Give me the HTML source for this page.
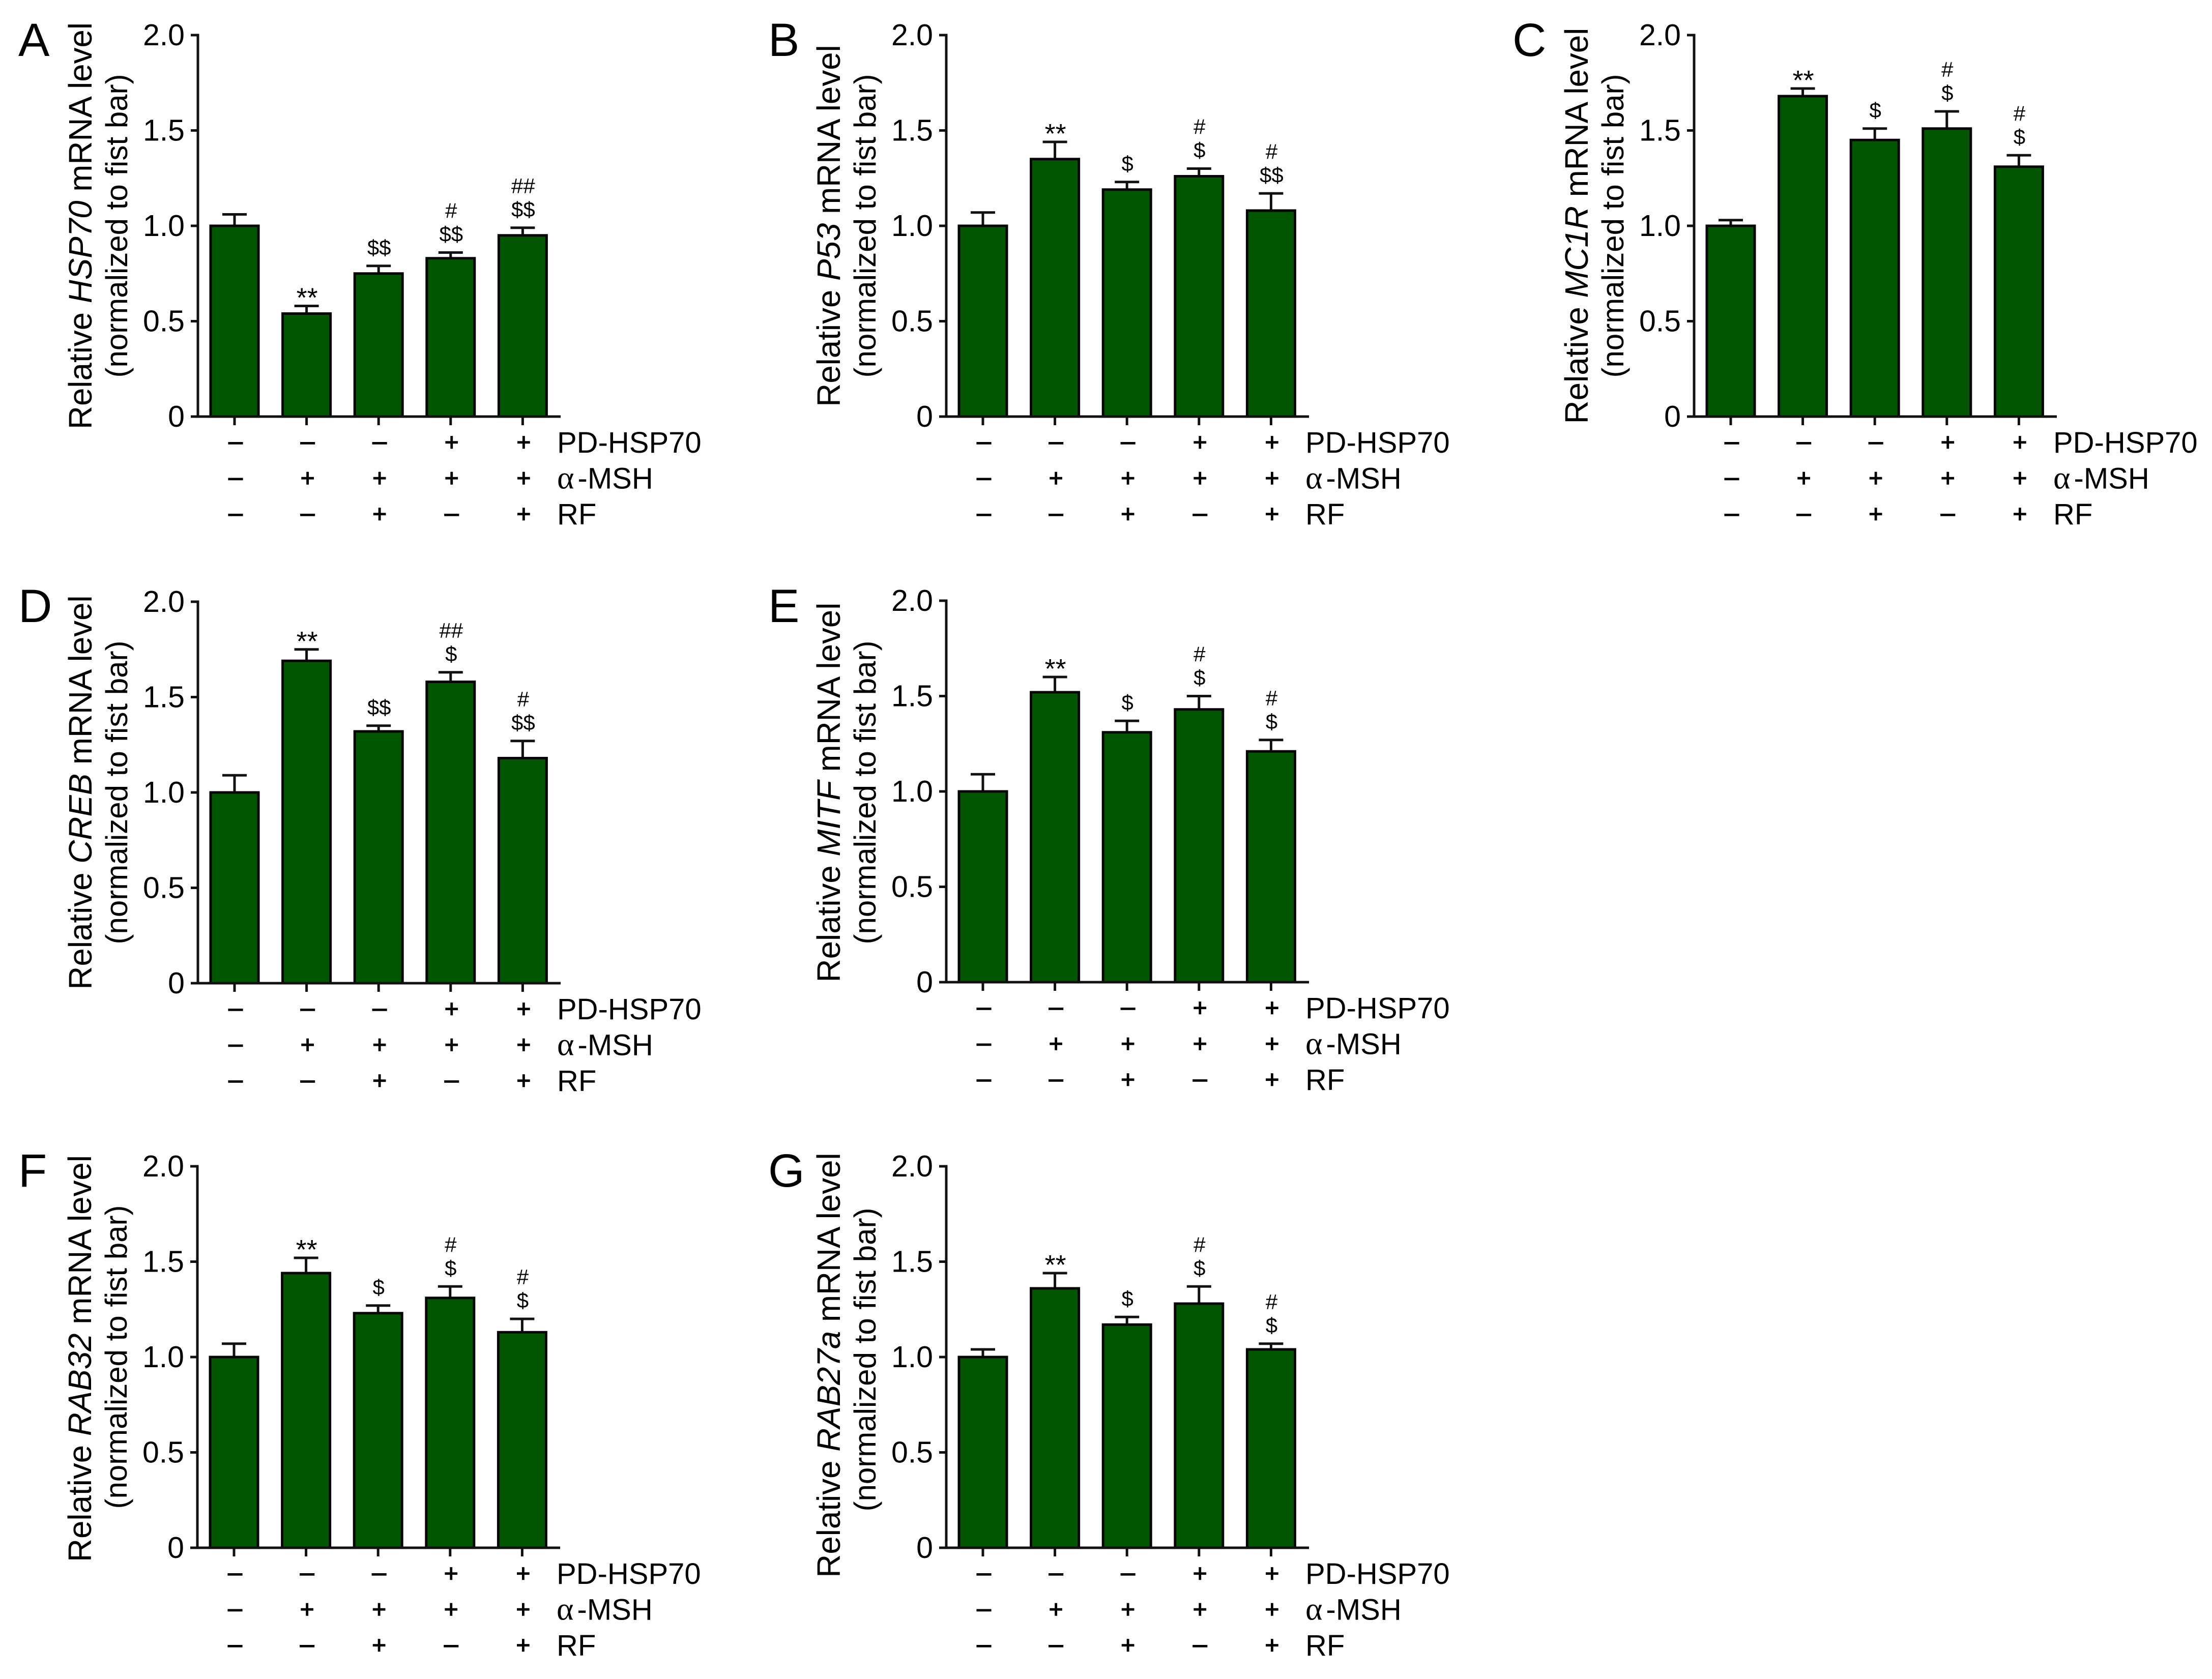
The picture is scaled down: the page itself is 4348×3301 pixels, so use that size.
<!DOCTYPE html>
<html lang="en">
<head>
<meta charset="utf-8">
<title>Relative mRNA levels</title>
<style>
html,body{margin:0;padding:0;background:#fff;width:4348px;height:3301px;overflow:hidden}
svg{display:block}
text{font-family:"Liberation Sans",Arial,sans-serif;fill:#000}
</style>
</head>
<body>
<svg id="figure" xmlns="http://www.w3.org/2000/svg" width="4348" height="3301" viewBox="0 0 4348 3301"></svg>
<script>
const yTickValues = [0, 0.5, 1.0, 1.5, 2.0];
const yTickLabels = ['0', '0.5', '1.0', '1.5', '2.0'];
const rowNames = ['PD-HSP70', '-MSH', 'RF'];
const pdSigns = ['–', '–', '–', '+', '+'];
const msSigns = ['–', '+', '+', '+', '+'];
const rfSigns = ['–', '–', '+', '–', '+'];

const valuesA = [1.0, 0.54, 0.75, 0.83, 0.95];
const errorsA = [0.06, 0.04, 0.04, 0.03, 0.04];
const marksA = [[], ['**'], ['$$'], ['$$', '#'], ['$$', '##']];

const valuesB = [1.0, 1.35, 1.19, 1.26, 1.08];
const errorsB = [0.07, 0.09, 0.04, 0.04, 0.09];
const marksB = [[], ['**'], ['$'], ['$', '#'], ['$$', '#']];

const valuesC = [1.0, 1.68, 1.45, 1.51, 1.31];
const errorsC = [0.03, 0.04, 0.06, 0.09, 0.06];
const marksC = [[], ['**'], ['$'], ['$', '#'], ['$', '#']];

const valuesD = [1.0, 1.69, 1.32, 1.58, 1.18];
const errorsD = [0.09, 0.06, 0.03, 0.05, 0.09];
const marksD = [[], ['**'], ['$$'], ['$', '##'], ['$$', '#']];

const valuesE = [1.0, 1.52, 1.31, 1.43, 1.21];
const errorsE = [0.09, 0.08, 0.06, 0.07, 0.06];
const marksE = [[], ['**'], ['$'], ['$', '#'], ['$', '#']];

const valuesF = [1.0, 1.44, 1.23, 1.31, 1.13];
const errorsF = [0.07, 0.08, 0.04, 0.06, 0.07];
const marksF = [[], ['**'], ['$'], ['$', '#'], ['$', '#']];

const valuesG = [1.0, 1.36, 1.17, 1.28, 1.04];
const errorsG = [0.04, 0.08, 0.04, 0.09, 0.03];
const marksG = [[], ['**'], ['$'], ['$', '#'], ['$', '#']];

const NS = 'http://www.w3.org/2000/svg';
const svg = document.getElementById('figure');

function make(tag, attrs, parent) {
  const n = document.createElementNS(NS, tag);
  for (const k in attrs) n.setAttribute(k, attrs[k]);
  parent.appendChild(n);
  return n;
}

function drawPanel(letter, gene, values, errors, marks, axisX, topY, zeroY, letterX, letterY, titleShift, subShift) {
  const yScale = v => zeroY - v * (zeroY - topY) / 2;
  const xScale = i => axisX + 72 + i * 141.6;

  const g = make('g', {}, svg);
  
  

  const lab = make('text', {x: letterX, y: letterY, 'font-size': 92}, g);
  
  
  lab.textContent = letter;

  values.forEach((v, i) => {
    const cx = xScale(i);
    const errTop = yScale(v + errors[i]);

    const stem = make('line', {x1: cx, x2: cx, y1: errTop, y2: yScale(v), stroke: '#111', 'stroke-width': 5}, g);
    
    

    const cap = make('line', {x1: cx - 24, x2: cx + 24, y1: errTop, y2: errTop, stroke: '#111', 'stroke-width': 5}, g);
    
    

    const bar = make('rect', {x: cx - 47, y: yScale(v), width: 94, height: zeroY - yScale(v), fill: '#025602', stroke: '#060606', 'stroke-width': 5}, g);
    
    

    marks[i].forEach((m, j) => {
      const star = m === '**';
      const t = make('text', {x: cx + 1, y: star ? errTop + 2 : errTop - 22 - j * 46, 'font-size': star ? 54 : 42, 'text-anchor': 'middle'}, g);
      
      
      t.textContent = m;
    });

    const tick = make('line', {x1: cx, x2: cx, y1: zeroY, y2: zeroY + 17, stroke: '#111', 'stroke-width': 5}, g);
    
    
  });

  const yAxis = make('line', {x1: axisX, x2: axisX, y1: topY - 2.5, y2: zeroY + 2.5, stroke: '#111', 'stroke-width': 5}, g);
  
  

  const xAxis = make('line', {x1: axisX - 14, x2: axisX + 713, y1: zeroY, y2: zeroY, stroke: '#111', 'stroke-width': 5}, g);
  
  

  yTickValues.forEach((v, i) => {
    const y = yScale(v);
    const tk = make('line', {x1: axisX - 14, x2: axisX, y1: y, y2: y, stroke: '#111', 'stroke-width': 5}, g);
    
    

    const tl = make('text', {x: axisX - 26, y: y + 20, 'font-size': 59, 'text-anchor': 'end'}, g);
    
    
    tl.textContent = yTickLabels[i];
  });

  const midY = (topY + zeroY) / 2;
  const title = make('text', {transform: 'translate(' + (axisX - 209) + ',' + (midY + titleShift) + ') rotate(-90)', 'font-size': 63.7, 'text-anchor': 'middle'}, g);
  
  
  title.appendChild(document.createTextNode('Relative '));
  const it = make('tspan', {'font-style': 'italic'}, title);
  it.textContent = gene;
  title.appendChild(document.createTextNode(' mRNA level'));

  const sub = make('text', {transform: 'translate(' + (axisX - 139) + ',' + (midY + subShift) + ') rotate(-90)', 'font-size': 60, 'text-anchor': 'middle'}, g);
  
  
  sub.textContent = '(normalized to fist bar)';

  [pdSigns, msSigns, rfSigns].forEach((row, r) => {
    const rowCenter = zeroY + 51 + r * 70.5;
    row.forEach((s, i) => {
      const plus = s === '+';
      const t = make('text', {x: xScale(i) + 2, y: rowCenter + (plus ? 16 : 14), 'font-size': plus ? 48 : 50, 'text-anchor': 'middle', stroke: '#000', 'stroke-width': 1.4}, g);
      
      
      t.textContent = s;
    });

    const name = make('text', {x: axisX + 706, y: zeroY + 71 + r * 70.5, 'font-size': 58}, g);
    
    
    if (r === 1) {
      const a = make('tspan', {'font-size': 64, style: 'font-family:"Liberation Serif",serif'}, name);
      a.textContent = 'α';
      const rest = make('tspan', {dx: 7}, name);
      rest.textContent = rowNames[r];
    } else {
      name.textContent = rowNames[r];
    }
  });
}

drawPanel('A', 'HSP70', valuesA, errorsA, marksA, 389, 69, 819, 36, 110, 0, 0);
drawPanel('B', 'P53', valuesB, errorsB, marksB, 1860, 69, 819, 1510, 110, 0, 0);
drawPanel('C', 'MC1R', valuesC, errorsC, marksC, 3330, 69, 819, 2973, 110, 0, 0);
drawPanel('D', 'CREB', valuesD, errorsD, marksD, 389, 1183, 1933, 36, 1223, 0, 0);
drawPanel('E', 'MITF', valuesE, errorsE, marksE, 1860, 1181, 1931, 1510, 1223, 2, 2);
drawPanel('F', 'RAB32', valuesF, errorsF, marksF, 388, 2293, 3043, 36, 2333, 3, 0);
drawPanel('G', 'RAB27a', valuesG, errorsG, marksG, 1860, 2293, 3043, 1510, 2333, 16, 5);
</script>
</body>
</html>
